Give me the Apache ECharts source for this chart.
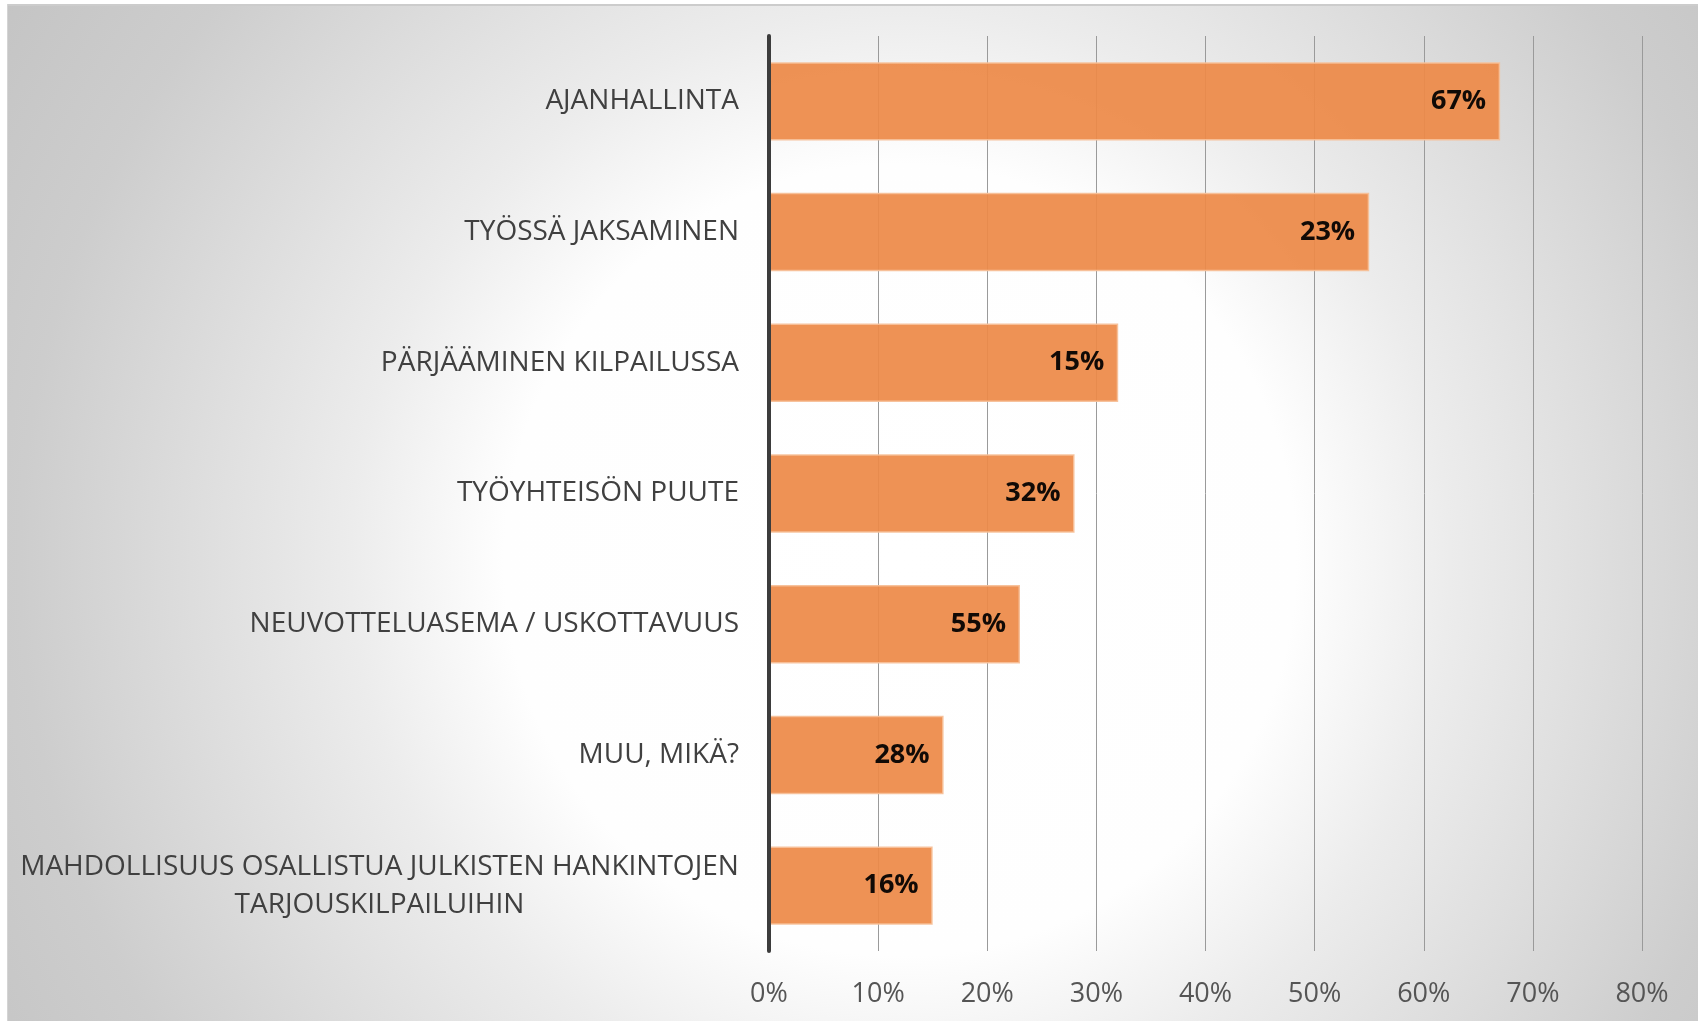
<!DOCTYPE html>
<html>
<head>
<meta charset="utf-8">
<script src="https://cdn.jsdelivr.net/npm/echarts@6/dist/echarts.min.js"></script>
<style>
  html, body { margin: 0; padding: 0; background: #fff; }
  #chart { width: 1698px; height: 1021px; }
</style>
</head>
<body>
<div id="chart"></div>
<script>
  // categories, top to bottom
  var categories = [
    'AJANHALLINTA',
    'TYÖSSÄ JAKSAMINEN',
    'PÄRJÄÄMINEN KILPAILUSSA',
    'TYÖYHTEISÖN PUUTE',
    'NEUVOTTELUASEMA / USKOTTAVUUS',
    'MUU, MIKÄ?',
    'MAHDOLLISUUS OSALLISTUA JULKISTEN HANKINTOJEN\nTARJOUSKILPAILUIHIN'
  ];
  // bar lengths (share of answers)
  var values = [0.67, 0.55, 0.32, 0.28, 0.23, 0.16, 0.15];
  // labels printed on the bars (as in the original chart)
  var barLabels = ['67%', '23%', '15%', '32%', '55%', '28%', '16%'];
  // x axis ticks
  var xTicks = [0, 0.1, 0.2, 0.3, 0.4, 0.5, 0.6, 0.7, 0.8];

  var labelFont = '"Open Sans", sans-serif';
  var labelSize = 28;

  // width of the first line of the long label, so the 2nd line can be centred under it
  var cv = document.createElement('canvas').getContext('2d');
  cv.font = labelSize + 'px ' + labelFont;
  function lineWidth(s) { return Math.ceil(cv.measureText(s).width); }

  var chart = echarts.init(document.getElementById('chart'));

  chart.setOption({
    backgroundColor: '#ffffff',
    graphic: [
      {
        type: 'rect',
        z: -10,
        silent: true,
        shape: { x: 8, y: 6, width: 1690, height: 1015 },
        style: {
          fill: new echarts.graphic.RadialGradient(900, 560, 1100, [
            { offset: 0, color: '#ffffff' },
            { offset: 0.36, color: '#fefefe' },
            { offset: 0.5, color: '#ececec' },
            { offset: 0.8, color: '#cdcdcd' },
            { offset: 1, color: '#c2c2c2' }
          ], true)
        }
      },
      {
        type: 'rect',
        z: -9,
        silent: true,
        shape: { x: 7, y: 4, width: 1691, height: 2 },
        style: { fill: '#cccccc' }
      },
      {
        type: 'rect',
        z: -9,
        silent: true,
        shape: { x: 7, y: 4, width: 1, height: 1017 },
        style: { fill: '#d4d4d4' }
      }
    ],
    grid: {
      left: 769,
      right: 56,
      top: 36,
      bottom: 70,
      containLabel: false
    },
    xAxis: {
      type: 'value',
      min: 0,
      max: 0.8,
      interval: 0.1,
      axisLine: { show: false },
      axisTick: { show: false },
      splitLine: { show: true, lineStyle: { color: '#9a9a9a', width: 1 } },
      axisLabel: {
        margin: 30,
        fontFamily: labelFont,
        fontSize: 27,
        color: '#555555',
        formatter: function (v) {
          var i = xTicks.findIndex(function (t) { return Math.abs(t - v) < 1e-6; });
          return i >= 0 ? Math.round(xTicks[i] * 100) + '%' : '';
        }
      }
    },
    yAxis: {
      type: 'category',
      inverse: true,
      data: categories,
      z: 10,
      axisLine: { show: true, lineStyle: { color: '#3c3c3c', width: 4 } },
      axisTick: { show: false },
      axisLabel: {
        margin: 30,
        fontFamily: labelFont,
        fontSize: labelSize,
        color: '#404040',
        lineHeight: 38,
        formatter: function (v) {
          if (v.indexOf('\n') < 0) return v;
          return v.split('\n').map(function (p) { return '{c|' + p + '}'; }).join('\n');
        },
        rich: {
          c: {
            width: lineWidth(categories[6].split('\n')[0]),
            align: 'center',
            fontFamily: labelFont,
            fontSize: labelSize,
            color: '#404040',
            lineHeight: 38
          }
        }
      }
    },
    series: [
      {
        type: 'bar',
        data: values,
        barCategoryGap: '40%',
        itemStyle: {
          color: '#ed8a48',
          opacity: 0.93,
          borderColor: '#f6bf98',
          borderWidth: 1.5
        },
        label: {
          show: true,
          position: 'insideRight',
          distance: 14,
          fontFamily: labelFont,
          fontWeight: 'bold',
          fontSize: 27,
          color: '#000000',
          formatter: function (p) { return barLabels[p.dataIndex]; }
        }
      }
    ]
  });
</script>
</body>
</html>
